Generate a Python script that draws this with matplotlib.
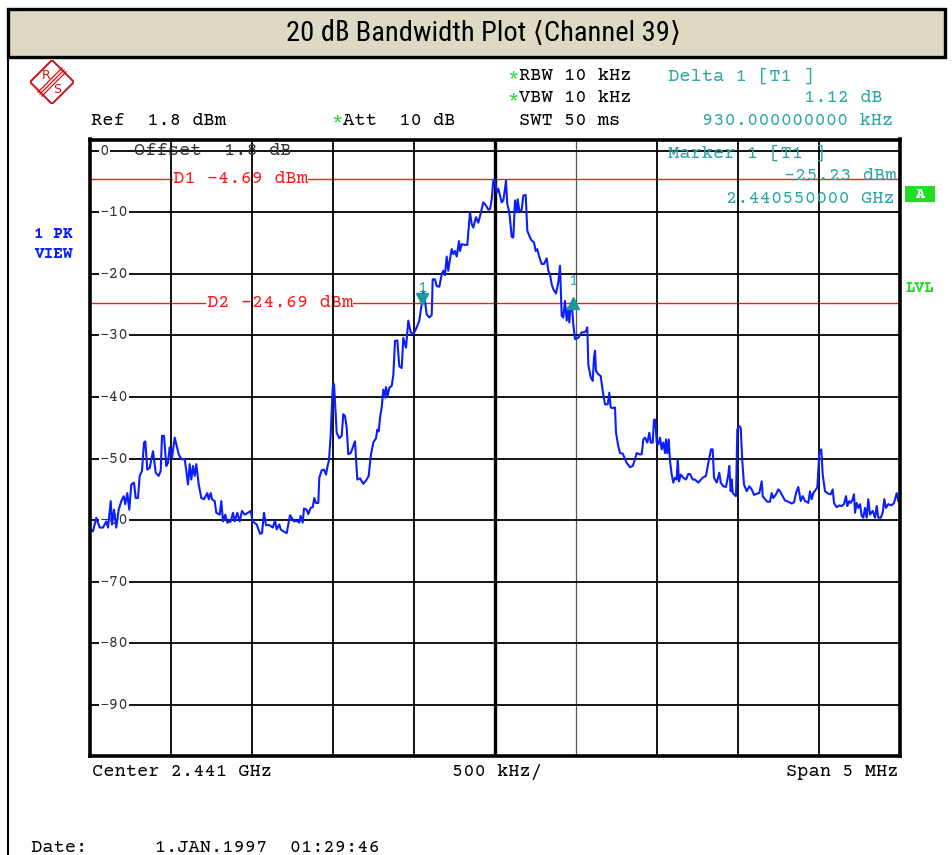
import matplotlib.pyplot as plt
from matplotlib.patches import Rectangle, Polygon
from matplotlib.lines import Line2D
from matplotlib.transforms import blended_transform_factory

W, H = 952, 855

# sweep trace: offset from span start (MHz) and level (dBm)
freq_offset_mhz = [
    0.0000, 0.0185, 0.0389, 0.0599, 0.0802, 0.1006, 0.1111, 0.1278, 0.1358, 0.1481,
    0.1623, 0.1772, 0.1932, 0.2080, 0.2179, 0.2302, 0.2426, 0.2549, 0.2716, 0.2821,
    0.2963, 0.3068, 0.3210, 0.3333, 0.3414, 0.3537, 0.3685, 0.3889, 0.4056, 0.4241,
    0.4364, 0.4444, 0.4568, 0.4710, 0.4815, 0.4920, 0.4981, 0.5062, 0.5228, 0.5327,
    0.5475, 0.5636, 0.5846, 0.5944, 0.6049, 0.6154, 0.6253, 0.6358, 0.6463, 0.6562,
    0.6710, 0.6870, 0.7037, 0.7241, 0.7327, 0.7451, 0.7531, 0.7698, 0.7796, 0.8006,
    0.8105, 0.8210, 0.8352, 0.8475, 0.8685, 0.8827, 0.8932, 0.9093, 0.9241, 0.9383,
    0.9549, 0.9753, 0.9920, 1.0043, 1.0290, 1.0494, 1.0617, 1.0741, 1.0864, 1.1068,
    1.1278, 1.1420, 1.1525, 1.1685, 1.1772, 1.1932, 1.2142, 1.2241, 1.2346, 1.2451,
    1.2593, 1.2759, 1.2920, 1.3006, 1.3130, 1.3210, 1.3377, 1.3475, 1.3623, 1.3747,
    1.3846, 1.3951, 1.4093, 1.4154, 1.4302, 1.4444, 1.4568, 1.4673, 1.4753, 1.4858,
    1.4981, 1.5062, 1.5123, 1.5228, 1.5389, 1.5537, 1.5636, 1.5741, 1.5846, 1.5944,
    1.6093, 1.6358, 1.6500, 1.6667, 1.6870, 1.7080, 1.7204, 1.7327, 1.7488, 1.7654,
    1.7735, 1.7821, 1.7901, 1.8006, 1.8105, 1.8210, 1.8272, 1.8377, 1.8475, 1.8623,
    1.8722, 1.8827, 1.8969, 1.9093, 1.9241, 1.9340, 1.9506, 1.9648, 1.9796, 1.9957,
    2.0167, 2.0327, 2.0475, 2.0574, 2.0679, 2.0784, 2.0944, 2.1093, 2.1154, 2.1296,
    2.1401, 2.1562, 2.1710, 2.1809, 2.1914, 2.2019, 2.2117, 2.2222, 2.2327, 2.2426,
    2.2531, 2.2636, 2.2778, 2.2840, 2.2944, 2.3148, 2.3290, 2.3457, 2.3562, 2.3660,
    2.3827, 2.3969, 2.4117, 2.4278, 2.4444, 2.4586, 2.4691, 2.4796, 2.4895, 2.5000,
    2.5105, 2.5204, 2.5309, 2.5414, 2.5512, 2.5617, 2.5679, 2.5759, 2.5883, 2.6031,
    2.6130, 2.6235, 2.6340, 2.6401, 2.6500, 2.6648, 2.6747, 2.6895, 2.6994, 2.7160,
    2.7265, 2.7407, 2.7512, 2.7611, 2.7735, 2.7883, 2.8025, 2.8191, 2.8290, 2.8395,
    2.8500, 2.8599, 2.8765, 2.8907, 2.9012, 2.9117, 2.9216, 2.9321, 2.9426, 2.9525,
    2.9586, 2.9673, 2.9772, 2.9833, 2.9938, 3.0142, 3.0352, 3.0494, 3.0617, 3.0698,
    3.0759, 3.0907, 3.1031, 3.1111, 3.1173, 3.1235, 3.1377, 3.1525, 3.1648, 3.1790,
    3.1957, 3.2056, 3.2142, 3.2265, 3.2407, 3.2469, 3.2611, 3.2716, 3.2883, 3.3130,
    3.3333, 3.3500, 3.3642, 3.3747, 3.3907, 3.4056, 3.4154, 3.4259, 3.4401, 3.4525,
    3.4611, 3.4735, 3.4815, 3.4895, 3.4981, 3.5080, 3.5185, 3.5290, 3.5389, 3.5494,
    3.5556, 3.5636, 3.5722, 3.5802, 3.5907, 3.6006, 3.6111, 3.6216, 3.6278, 3.6358,
    3.6463, 3.6623, 3.6790, 3.6932, 3.7037, 3.7204, 3.7346, 3.7549, 3.7821, 3.8025,
    3.8167, 3.8333, 3.8438, 3.8519, 3.8685, 3.8846, 3.8932, 3.9093, 3.9259, 3.9401,
    3.9463, 3.9549, 3.9611, 3.9673, 3.9753, 3.9877, 3.9957, 4.0062, 4.0167, 4.0265,
    4.0370, 4.0537, 4.0698, 4.0846, 4.0988, 4.1154, 4.1315, 4.1463, 4.1525, 4.1667,
    4.1809, 4.1975, 4.2080, 4.2179, 4.2346, 4.2488, 4.2593, 4.2759, 4.2901, 4.3105,
    4.3315, 4.3457, 4.3580, 4.3722, 4.3870, 4.3994, 4.4136, 4.4241, 4.4340, 4.4444,
    4.4549, 4.4648, 4.4815, 4.4895, 4.5019, 4.5142, 4.5228, 4.5370, 4.5574, 4.5722,
    4.5846, 4.5926, 4.6093, 4.6253, 4.6401, 4.6543, 4.6667, 4.6747, 4.6870, 4.6957,
    4.7080, 4.7160, 4.7222, 4.7327, 4.7426, 4.7531, 4.7636, 4.7735, 4.7840, 4.7944,
    4.8043, 4.8148, 4.8315, 4.8457, 4.8562, 4.8660, 4.8809, 4.8932, 4.9031, 4.9136,
    4.9278, 4.9488, 4.9630, 4.9796, 4.9895, 5.0000,
]
level_dbm = [
    -61.5, -61.8, -59.6, -61.2, -61.2, -60.2, -61.2, -56.9, -60.7, -58.3,
    -61.2, -58.3, -56.9, -56.1, -57.4, -55.6, -58.3, -54.2, -53.9, -56.4,
    -56.4, -52.8, -52.0, -47.4, -47.2, -51.8, -51.5, -48.8, -52.3, -52.8,
    -52.0, -46.3, -46.3, -51.2, -50.7, -48.2, -49.3, -49.9, -46.6, -47.7,
    -49.3, -50.1, -50.1, -52.0, -54.2, -50.9, -53.4, -51.2, -52.8, -50.9,
    -54.2, -56.4, -56.6, -55.6, -56.6, -55.6, -56.6, -56.9, -58.8, -59.1,
    -56.9, -60.2, -59.1, -60.4, -60.2, -58.8, -60.2, -58.8, -60.2, -58.5,
    -59.1, -58.8, -58.5, -60.2, -60.7, -62.2, -62.1, -58.8, -60.8, -60.8,
    -61.2, -60.1, -61.5, -60.7, -61.5, -61.8, -62.1, -60.7, -59.2, -59.6,
    -60.2, -60.1, -60.4, -59.3, -60.4, -58.1, -58.3, -59.0, -58.0, -57.9,
    -56.4, -57.2, -57.2, -53.1, -51.9, -51.8, -52.6, -51.1, -50.3, -46.1,
    -38.5, -37.9, -40.7, -45.8, -46.7, -46.3, -42.8, -43.1, -45.0, -49.3,
    -49.1, -47.2, -53.4, -53.2, -54.1, -53.4, -52.8, -49.6, -47.4, -46.7,
    -45.3, -45.6, -43.4, -41.7, -38.8, -40.1, -38.4, -39.8, -38.5, -38.2,
    -36.5, -30.9, -30.8, -35.0, -35.3, -30.4, -32.0, -27.6, -29.5, -29.8,
    -28.7, -27.6, -24.9, -22.8, -24.5, -26.6, -27.1, -26.7, -20.9, -20.9,
    -22.0, -22.1, -20.1, -19.5, -20.2, -17.2, -19.5, -17.6, -16.0, -16.8,
    -16.3, -17.2, -14.7, -16.3, -15.2, -15.3, -15.3, -10.0, -11.9, -12.5,
    -10.8, -11.7, -10.2, -8.4, -8.9, -9.6, -9.5, -7.9, -4.9, -4.8,
    -6.8, -6.2, -7.3, -8.4, -8.1, -6.2, -4.9, -8.7, -10.0, -14.0,
    -14.1, -8.1, -10.0, -7.9, -9.8, -9.6, -7.3, -7.2, -13.0, -14.1,
    -14.6, -14.9, -16.3, -16.0, -17.3, -18.4, -18.4, -17.5, -19.5, -20.1,
    -21.7, -22.5, -23.2, -21.4, -18.7, -26.8, -27.1, -24.4, -27.6, -25.5,
    -27.9, -24.9, -26.0, -28.2, -30.6, -30.4, -29.5, -29.5, -29.3, -28.7,
    -34.7, -36.8, -37.4, -33.6, -32.5, -35.8, -36.3, -36.6, -39.0, -41.2,
    -41.2, -39.3, -41.7, -41.8, -41.7, -45.8, -48.0, -49.1, -49.2, -50.7,
    -51.4, -51.2, -50.1, -49.1, -49.3, -49.3, -46.9, -46.6, -47.4, -45.8,
    -47.4, -47.4, -43.7, -43.7, -47.4, -47.7, -46.6, -48.5, -47.4, -49.1,
    -46.9, -49.1, -46.9, -50.4, -52.6, -53.9, -53.1, -53.4, -50.1, -53.7,
    -52.6, -53.1, -53.4, -52.5, -52.5, -53.4, -53.4, -53.9, -53.1, -52.8,
    -50.7, -48.5, -48.5, -53.1, -53.9, -52.3, -53.9, -54.5, -54.6, -52.6,
    -51.2, -55.3, -53.4, -55.6, -55.8, -56.1, -45.3, -44.7, -45.0, -50.4,
    -54.2, -55.3, -54.5, -55.0, -55.9, -55.7, -55.6, -53.7, -56.1, -56.6,
    -57.0, -57.0, -55.6, -56.4, -55.8, -55.0, -55.3, -56.1, -56.8, -57.0,
    -57.3, -57.1, -55.6, -54.6, -56.9, -56.1, -56.9, -57.0, -57.2, -55.3,
    -56.6, -55.6, -55.0, -54.7, -49.1, -48.5, -52.6, -55.3, -55.7, -55.8,
    -55.0, -57.2, -57.9, -57.6, -57.7, -57.4, -56.1, -57.7, -56.9, -57.2,
    -56.6, -55.8, -58.8, -57.2, -58.0, -57.4, -59.3, -59.6, -58.0, -59.6,
    -56.6, -59.1, -58.5, -59.6, -57.7, -59.6, -59.6, -58.8, -56.6, -58.0,
    -57.4, -57.6, -57.2, -55.6, -56.9, -57.0,
]

start_mhz = 2438.5
span_mhz = 5.0
ref_level = 1.8
display_lines = [-4.69, -24.69]
display_labels = ['D1 -4.69 dBm', 'D2 -24.69 dBm']
marker_freq_mhz = 2440.55
marker_level = -25.23
delta_freq_mhz = 0.93
delta_db = 1.12
y_ticks = [0, -10, -20, -30, -40, -50, -60, -70, -80, -90]

MONO = ['Courier Prime', 'Liberation Mono']
TEAL = '#2aa6a6'
GREEN = '#22dd22'
RED = '#ff1a1a'
BLUE = '#0a1eff'

fig = plt.figure(figsize=(W / 100, H / 100), dpi=100)


def px(x, y):
    return x / W, 1 - y / H


def ftext(x, y, s, **kw):
    kw.setdefault('family', MONO)
    kw.setdefault('fontsize', 13.5)
    kw.setdefault('va', 'center')
    fig.text(*px(x, y), s, **kw)


# title band and frame
band = Rectangle(px(8, 57), 937 / W, 47.5 / H, transform=fig.transFigure,
                 facecolor='#ddd9c3', edgecolor='black', lw=2.4)
fig.add_artist(band)
fig.add_artist(Line2D([8 / W, 8 / W], [1 - 57 / H, 0], transform=fig.transFigure,
                      color='black', lw=1.5))
fig.text(*px(484, 34), '20 ㏈ Bandwidth Plot ⟨Channel 39⟩', ha='center', va='center',
         fontsize=20.5, family=['Roboto Condensed', 'DejaVu Sans', 'Noto Sans CJK KR'])

# R&S logo
lax = fig.add_axes([30 / W, 1 - 104 / H, 44 / W, 44 / H])
lax.set_xlim(-1, 1)
lax.set_ylim(-1, 1)
lax.axis('off')
lax.add_patch(Polygon([[0, 1], [1, 0], [0, -1], [-1, 0]], closed=True, fill=False,
                      edgecolor='#cc1111', lw=1.4))
for d in (-0.09, 0, 0.09):
    lax.plot([-0.55 + d, 0.55 + d], [-0.55 - d, 0.55 - d], color='#cc1111', lw=0.9)
lax.text(-0.25, 0.3, 'R', color='#cc1111', fontsize=9, ha='center', va='center')
lax.text(0.25, -0.32, 'S', color='#cc1111', fontsize=9, ha='center', va='center')

# instrument settings
ftext(507, 77, '*', color=GREEN)
ftext(519, 76, 'RBW 10 kHz')
ftext(507, 99, '*', color=GREEN)
ftext(519, 98, 'VBW 10 kHz')
ftext(91, 121, 'Ref  1.8 dBm')
ftext(331, 122, '*', color=GREEN)
ftext(343, 121, 'Att  10 dB')
ftext(519, 121, 'SWT 50 ms')
ftext(668, 76, 'Delta 1 [T1 ]', color=TEAL)
ftext(883, 98, f'{delta_db:.2f} dB', color=TEAL, ha='right')
ftext(893, 121, f'{delta_freq_mhz * 1000:.9f} kHz', color=TEAL, ha='right')

# side annotations
ftext(34, 234, '1 PK', color=BLUE, fontsize=11.5, weight='bold')
ftext(34, 254, 'VIEW', color=BLUE, fontsize=11.5, weight='bold')
fig.add_artist(Rectangle(px(905, 202), 30 / W, 16 / H, transform=fig.transFigure,
                         facecolor=GREEN, edgecolor='none'))
ftext(920, 194, 'A', color='white', fontsize=11, weight='bold', ha='center')
ftext(906, 288, 'LVL', color=GREEN, fontsize=11.5, weight='bold')

# bottom annotations
ftext(92, 772, f'Center {(start_mhz + span_mhz / 2) / 1000:.3f} GHz')
ftext(452, 772, '500 kHz/')
ftext(898, 772, f'Span {span_mhz:.0f} MHz', ha='right')
ftext(31, 848, 'Date:      1.JAN.1997  01:29:46')

# trace area
ax = fig.add_axes([90 / W, 1 - 755.5 / H, 810 / W, 616 / H])
freqs = [start_mhz + f for f in freq_offset_mhz]
ax.set_xlim(start_mhz, start_mhz + span_mhz)
ax.set_ylim(ref_level - 100, ref_level)
ax.set_xticks([])
ax.set_yticks([])
for s in ax.spines.values():
    s.set_linewidth(2.6)
    s.set_zorder(6)

for i in range(1, 10):
    xv = start_mhz + i * span_mhz / 10
    if i == 5:
        ax.axvline(xv, color='black', lw=2.4, zorder=2.5)
    elif i == 6:
        ax.axvline(xv, color='#555555', lw=0.9, zorder=2.5)
    else:
        ax.axvline(xv, color='black', lw=1.3, zorder=2.5)
for t in y_ticks:
    ax.axhline(t, color='black', lw=1.3, zorder=2.5)

ytrans = blended_transform_factory(ax.transAxes, ax.transData)
for t in y_ticks:
    ax.text(0.0115, t, f'{t}'.replace('-', '\u2212'), transform=ytrans,
            family=MONO, fontsize=11.5, color='#333333', va='center', ha='left',
            zorder=3, bbox=dict(facecolor='white', edgecolor='none', pad=0.5))

# display lines
label_x = [start_mhz + 0.512, start_mhz + 0.72]
for lv, lab, lx in zip(display_lines, display_labels, label_x):
    ax.axhline(lv, color=RED, lw=1.0, zorder=1.5)
    ax.text(lx, lv, lab, color=RED, family=MONO, fontsize=13.5, va='center',
            ha='left', zorder=2, bbox=dict(facecolor='white', edgecolor='none', pad=0.2))

ax.text(start_mhz + 0.272, 0, 'Offset  1.8 dB', family=MONO, fontsize=13.5,
        color='#333333', va='center', ha='left', zorder=3)

# marker block
atext = dict(transform=ax.transAxes, family=MONO, fontsize=13.5, color=TEAL,
             va='center', zorder=5)
ax.text(0.714, 1 - 13.5 / 616, 'Marker 1 [T1 ]', ha='left', **atext)
ax.text(0.9955, 1 - 36.5 / 616, f'{marker_level:.2f} dBm', ha='right', **atext)
ax.text(0.993, 1 - 59.5 / 616, f'{marker_freq_mhz / 1000:.9f} GHz', ha='right', **atext)

ax.plot(freqs, level_dbm, color=BLUE, lw=1.5, zorder=4)

# markers
delta_x = marker_freq_mhz + delta_freq_mhz
delta_y = marker_level + delta_db
ax.plot(marker_freq_mhz, marker_level + 1.2, marker='v', color='#1a9a9a',
        markersize=8, zorder=5)
ax.plot(delta_x, delta_y - 0.6, marker='^', color='#1a9a9a', markersize=8, zorder=5)
ax.annotate('1', (marker_freq_mhz, marker_level), xytext=(0, 13),
            textcoords='offset points', ha='center', va='center', color=TEAL,
            family=MONO, fontsize=12, zorder=5)
ax.annotate('1', (delta_x, delta_y), xytext=(0, 13), textcoords='offset points',
            ha='center', va='center', color=TEAL, family=MONO, fontsize=12, zorder=5)

fig.savefig('out.png', dpi=100)
